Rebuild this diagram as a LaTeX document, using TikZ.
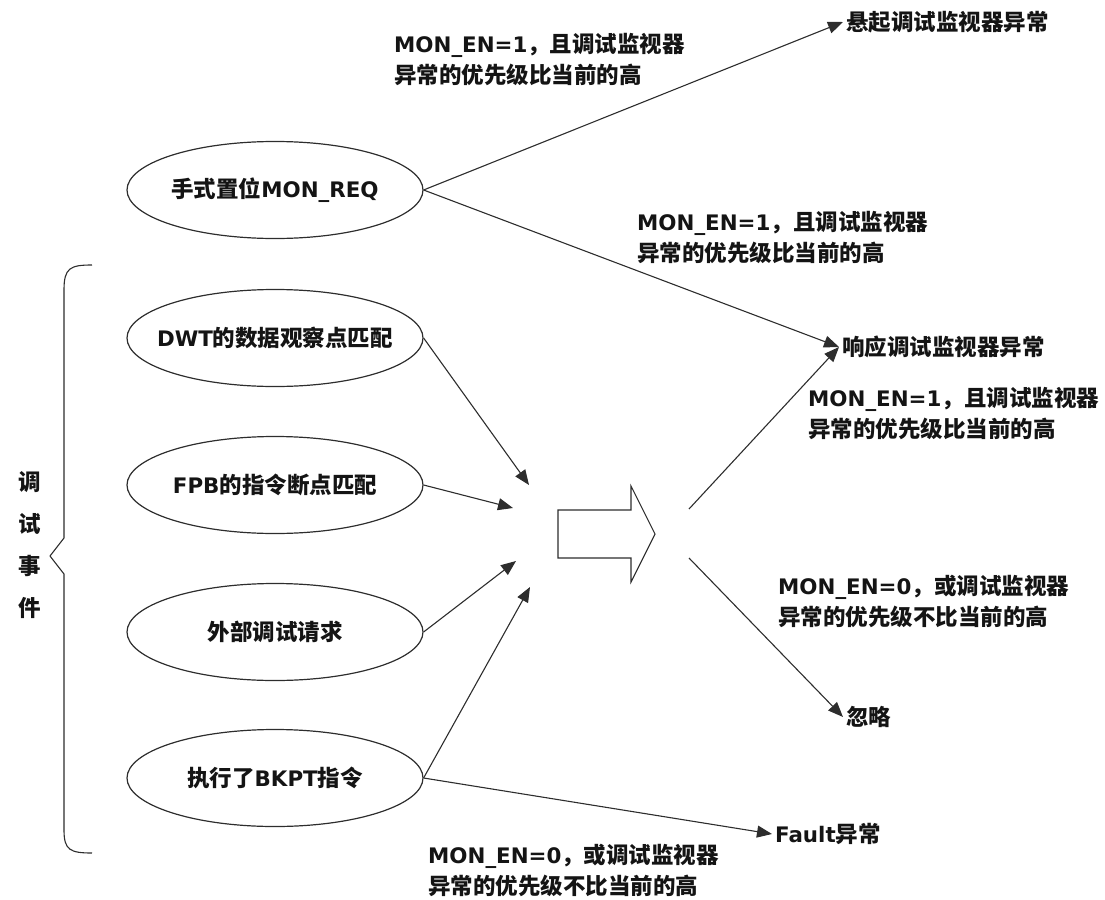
\documentclass[tikz,border=0pt]{standalone}
\usepackage{fontspec}
\setmainfont{Noto Sans CJK SC}
\newfontfamily\dbglat{DejaVu Sans}[Scale=0.95]
\usetikzlibrary{arrows.meta,shapes.geometric}
\definecolor{dbgline}{RGB}{45,45,45}
\definecolor{dbgtext}{RGB}{20,20,20}
\def\dbgL#1{{\dbglat #1}}
\def\dbgYes{\dbgL{MON\_EN=1}，且调试监视器\\异常的优先级比当前的高}
\def\dbgNo{\dbgL{MON\_EN=0}，或调试监视器\\异常的优先级不比当前的高}

\begin{document}
\begin{tikzpicture}[
    x=1pt, y=-1pt,
    dbgedge/.style = {dbgline, line width=1.1pt},
    dbgarr/.style  = {dbgedge, -{Triangle[length=15pt,width=12pt]}},
    dbgell/.style  = {ellipse, draw=dbgline, line width=1.2pt,
                      minimum width=296pt, minimum height=97pt,
                      inner xsep=-20pt, inner ysep=0pt,
                      font=\fontsize{22.5}{31}\selectfont\bfseries, text=dbgtext},
    dbglbl/.style  = {font=\fontsize{22.5}{31}\selectfont\bfseries, text=dbgtext,
                      align=left, inner sep=0pt, anchor=west},
    dbgtgt/.style  = {font=\fontsize{22.5}{31}\selectfont\bfseries, text=dbgtext,
                      inner sep=3pt, anchor=west}]

  \useasboundingbox (0,0) rectangle (1105,899);

  %% ---- debug events ------------------------------------------------
  \node[dbgell] (req)  at (275,190) {手式置位\dbgL{MON\_REQ}};
  \node[dbgell] (dwt)  at (275,338) {\dbgL{DWT}的数据观察点匹配};
  \node[dbgell] (fpb)  at (275,485) {\dbgL{FPB}的指令断点匹配};
  \node[dbgell] (ext)  at (275,632) {外部调试请求};
  \node[dbgell] (bkpt) at (275,778) {执行了\dbgL{BKPT}指令};

  % brace and its label
  \draw[dbgedge, line join=round]
    (92,265) .. controls (70,265) and (64,268) .. (64,290) -- (64,538)
    -- (50,556) -- (64,574) -- (64,830)
    .. controls (64,850) and (70,853) .. (92,853);
  \node[font=\fontsize{22.5}{42}\selectfont\bfseries, text=dbgtext,
        align=center, inner sep=0pt] (evt) at (30,545) {调\\试\\事\\件};

  %% ---- hub arrow ---------------------------------------------------
  \draw[dbgedge, line join=miter]
    (558,510) -- (631,510) -- (631,486) -- (655,534) -- (631,582)
    -- (631,558) -- (558,558) -- cycle;
  \coordinate (in1)  at (529,485);
  \coordinate (in2)  at (513,508);
  \coordinate (in3)  at (516,561);
  \coordinate (in4)  at (530,587);
  \coordinate (out1) at (689,509);
  \coordinate (out2) at (689,558);

  %% ---- outcomes ----------------------------------------------------
  \node[dbgtgt] (hang)  at (843,22)  {悬起调试监视器异常};
  \node[dbgtgt] (resp)  at (839,347) {响应调试监视器异常};
  \node[dbgtgt] (ign)   at (843,717) {忽略};
  \node[dbgtgt] (fault) at (772,834) {\dbgL{Fault}异常};

  %% ---- conditions --------------------------------------------------
  \node[dbglbl] (c1) at (394,60)  {\dbgYes};
  \node[dbglbl] (c2) at (637,238) {\dbgYes};
  \node[dbglbl] (c3) at (808,414) {\dbgYes};
  \node[dbglbl] (c4) at (778,601) {\dbgNo};
  \node[dbglbl] (c5) at (428,870) {\dbgNo};

  %% ---- connectors --------------------------------------------------
  \draw[dbgarr] (dwt.east)  -- (in1);
  \draw[dbgarr] (fpb.east)  -- (in2);
  \draw[dbgarr] (ext.east)  -- (in3);
  \draw[dbgarr] (bkpt.east) -- (in4);
  \draw[dbgarr] (req.east)  -- (hang.west);
  \draw[dbgarr] (req.east)  -- (resp.west);
  \draw[dbgarr] (out1)      -- (resp.west);
  \draw[dbgarr] (out2)      -- (ign.west);
  \draw[dbgarr] (bkpt.east) -- (fault.west);
\end{tikzpicture}
\end{document}
